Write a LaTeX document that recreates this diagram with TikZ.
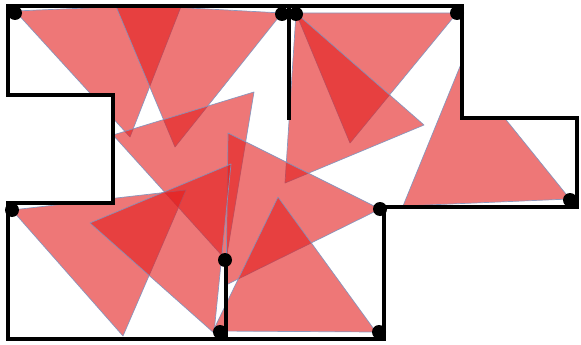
\documentclass[tikz,border=0pt]{standalone}
\begin{document}
\definecolor{trifill}{RGB}{226,28,28}
\definecolor{triedge}{RGB}{128,148,190}
\tikzset{
  tri/.style={fill=trifill,fill opacity=0.6,draw=triedge,draw opacity=0.9,line width=0.7pt,line join=round},
  wall/.style={line width=3.6pt,line join=miter,line cap=rect},
  guard/.style={circle,fill=black,inner sep=0pt,minimum size=14pt}
}
\begin{tikzpicture}[x=1pt,y=-1pt]
\useasboundingbox (0,0) rectangle (581,345);
\def\myroom{(8,6) -- (462,6) -- (462,118) -- (577,118) -- (577,207) -- (384,207) -- (384,339) -- (8,339) -- (8,203) -- (113,203) -- (113,95) -- (8,95) -- cycle}
\begin{scope}
  \clip \myroom;
  % top-left pair
  \path[tri] (15,11) -- (182,4) -- (130,137) -- cycle;
  \path[tri] (115,4) -- (282,13) -- (175,147) -- cycle;
  % top-right pair
  \path[tri] (296,13) -- (457,13) -- (350,143) -- cycle;
  \path[tri] (296,13) -- (424,125) -- (285,183) -- cycle;
  % right
  \path[tri] (461,64) -- (570,199) -- (403,206) -- cycle;
  % middle
  \path[tri] (113,135) -- (254,92) -- (226,260) -- cycle;
  \path[tri] (228,133) -- (380,209) -- (226,285) -- cycle;
  \path[tri] (278,197) -- (376,332) -- (213,331) -- cycle;
  % bottom-left
  \path[tri] (12,210) -- (186,190) -- (123,336) -- cycle;
  \path[tri] (90,223) -- (231,164) -- (214,333) -- cycle;
\end{scope}
% walls
\draw[wall] \myroom;
\draw[wall] (289,6) -- (289,118);
\draw[wall] (226,260) -- (226,339);
% guards
\node[guard] (g1) at (15,13) {};
\node[guard] (g2) at (282,14) {};
\node[guard] (g3) at (296,14) {};
\node[guard] (g4) at (457,13) {};
\node[guard] (g5) at (570,200) {};
\node[guard] (g6) at (380,209) {};
\node[guard] (g7) at (12,210) {};
\node[guard] (g8) at (225,260) {};
\node[guard] (g9) at (220,332) {};
\node[guard] (g10) at (379,332) {};
\end{tikzpicture}
\end{document}
